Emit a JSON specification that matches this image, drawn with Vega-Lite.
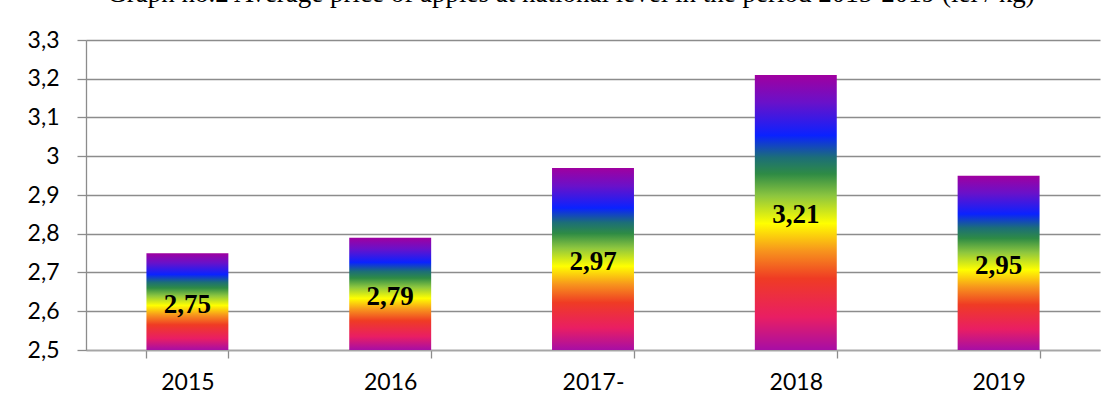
{
  "$schema": "https://vega.github.io/schema/vega-lite/v6.json",
  "autosize": "none",
  "width": 1014,
  "height": 310,
  "padding": {"left": 86, "top": 40, "right": 15, "bottom": 60},
  "background": "white",
  "config": {
    "locale": {"number": {"decimal": ",", "thousands": ".", "grouping": [3], "currency": ["", ""]}},
    "view": {"stroke": null},
    "axisY": {
      "values": [2.5, 2.6, 2.7, 2.8, 2.9, 3.0, 3.1, 3.2, 3.3],
      "format": ".2~f",
      "labelOverlap": false,
      "labelFont": "Lato",
      "labelFontSize": 23,
      "labelColor": "#000000",
      "labelPadding": 18,
      "domainColor": "#8c8c8c",
      "domainWidth": 1.3,
      "tickColor": "#8c8c8c",
      "tickWidth": 1.3,
      "tickSize": 9,
      "grid": true,
      "gridColor": "#8c8c8c",
      "gridWidth": 1.3
    }
  },
  "title": {
    "text": "Graph no.2 Average price of apples at national level in the period 2015-2019 (lei / kg)",
    "font": "Liberation Serif",
    "fontSize": 27,
    "fontWeight": "normal",
    "color": "#000000",
    "anchor": "middle",
    "offset": 5,
    "dx": -22,
    "dy": -16
  },
  "data": {
    "values": [
      {"year": "2015", "price": 2.75},
      {"year": "2016", "price": 2.79},
      {"year": "2017-", "price": 2.97},
      {"year": "2018", "price": 3.21},
      {"year": "2019", "price": 2.95}
    ]
  },
  "encoding": {
    "x": {
      "field": "year",
      "type": "nominal",
      "sort": null,
      "scale": {"paddingInner": 0.596, "paddingOuter": 0.298},
      "axis": {
        "title": null,
        "labelAngle": 0,
        "labelFont": "Lato",
        "labelFontSize": 23,
        "labelColor": "#000000",
        "labelBaseline": "top",
        "labelPadding": 13,
        "domainColor": "#a6a6a6",
        "domainWidth": 1.3,
        "tickColor": "#8c8c8c",
        "tickWidth": 1.3,
        "tickSize": 8,
        "tickBand": "extent",
        "grid": false
      }
    },
    "y": {
      "field": "price",
      "type": "quantitative",
      "scale": {"domain": [2.5, 3.3], "nice": false, "zero": false},
      "axis": {"title": null, "tickCount": 9}
    }
  },
  "layer": [
    {
      "mark": {
        "type": "bar",
        "fill": {
          "gradient": "linear",
          "x1": 0, "y1": 1, "x2": 0, "y2": 0,
          "stops": [
            {"offset": 0, "color": "#a70ea5"},
            {"offset": 0.12, "color": "#e91e63"},
            {"offset": 0.26, "color": "#ef3b24"},
            {"offset": 0.36, "color": "#f7941d"},
            {"offset": 0.46, "color": "#ffff00"},
            {"offset": 0.56, "color": "#8dc63f"},
            {"offset": 0.64, "color": "#2e8b45"},
            {"offset": 0.70, "color": "#1c6e78"},
            {"offset": 0.78, "color": "#0a22ff"},
            {"offset": 0.9, "color": "#6a11c9"},
            {"offset": 1, "color": "#a0009f"}
          ]
        }
      },
      "encoding": {
        "y2": {"datum": 2.5}
      }
    },
    {
      "transform": [{"calculate": "(datum.price + 2.5) / 2", "as": "mid"}],
      "mark": {
        "type": "text",
        "font": "Liberation Serif",
        "fontWeight": "bold",
        "fontSize": 27,
        "baseline": "middle",
        "dy": 3,
        "color": "#000000"
      },
      "encoding": {
        "y": {"field": "mid", "type": "quantitative", "title": null},
        "text": {"field": "price", "type": "quantitative", "format": ".2f"}
      }
    }
  ]
}
